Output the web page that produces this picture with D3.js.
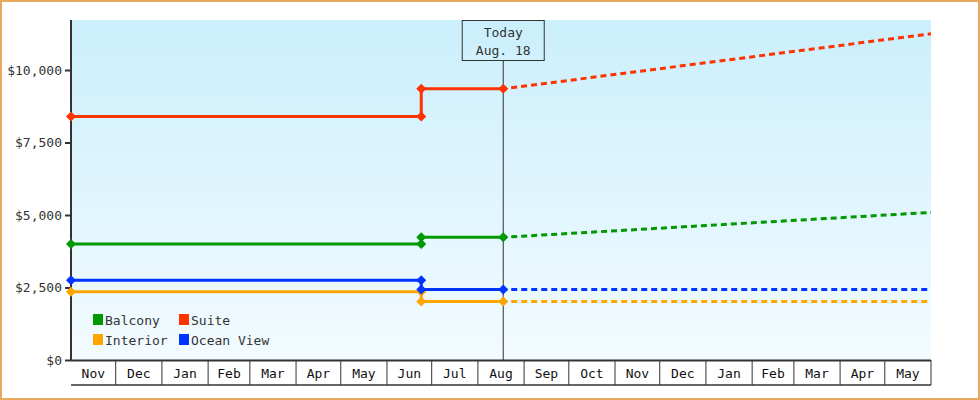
<!DOCTYPE html>
<html><head><meta charset="utf-8">
<script src="https://cdn.jsdelivr.net/npm/d3@7"></script>
<style>
body{margin:0;background:#fff}
svg{display:block;font-family:"DejaVu Sans Mono",monospace}
</style></head>
<body><svg id="chart" width="980" height="400"></svg>
<script>
// data
const seriesNames = ["Balcony", "Suite", "Interior", "Ocean View"];
const seriesColors = ["#009900", "#ff3300", "#ffa500", "#0033ff"];
const pastDates = ["2017-11-01", "2018-06-24", "2018-06-24", "2018-08-18"];
const balconyPast = [4000, 4000, 4230, 4230];
const suitePast = [8400, 8400, 9350, 9350];
const interiorPast = [2350, 2350, 2020, 2020];
const oceanPast = [2750, 2750, 2430, 2430];
const futureDates = ["2018-08-18", "2019-06-01"];
const balconyFuture = [4230, 5090];
const suiteFuture = [9350, 11250];
const interiorFuture = [2020, 2020];
const oceanFuture = [2430, 2430];
const yTicks = [0, 2500, 5000, 7500, 10000];
const todayDate = "2018-08-18";
const todayLabel = ["Today", "Aug. 18"];

const pastValues = [balconyPast, suitePast, interiorPast, oceanPast];
const futureValues = [balconyFuture, suiteFuture, interiorFuture, oceanFuture];
const parse = d3.timeParse("%Y-%m-%d");

const svg = d3.select("#chart");
const plotLeft = 71, plotRight = 931, plotTop = 20, plotBottom = 360;

svg.append("rect").attr("x", 1).attr("y", 1).attr("width", 978).attr("height", 398)
  .attr("fill", "#fff").attr("stroke", "#e8a860").attr("stroke-width", 2);

const grad = svg.append("defs").append("linearGradient").attr("id", "bg")
  .attr("x1", 0).attr("y1", 0).attr("x2", 0).attr("y2", 1);
grad.append("stop").attr("offset", 0).attr("stop-color", "#cbeffc");
grad.append("stop").attr("offset", 1).attr("stop-color", "#f3fbff");
svg.append("rect").attr("x", plotLeft).attr("y", plotTop).attr("width", plotRight - plotLeft)
  .attr("height", plotBottom - plotTop).attr("fill", "url(#bg)");

const x = d3.scaleTime().domain([parse("2017-11-01"), parse("2019-06-01")]).range([plotLeft, plotRight]);
const y = d3.scaleLinear().domain([0, 11724]).range([plotBottom, plotTop]);

// y axis
const yAxis = svg.append("g").attr("transform", `translate(${plotLeft},0)`)
  .call(d3.axisLeft(y).tickValues(yTicks).tickSize(6).tickPadding(3)
    .tickFormat(d => "$" + d3.format(",")(d)));
yAxis.select(".domain").remove();
yAxis.selectAll("text").attr("font-size", 13).attr("fill", "#333").attr("font-family", "DejaVu Sans Mono");
yAxis.selectAll("line").attr("stroke", "#333").attr("stroke-width", 2);
svg.append("line").attr("x1", plotLeft).attr("x2", plotLeft).attr("y1", plotTop).attr("y2", plotBottom + 1)
  .attr("stroke", "#333").attr("stroke-width", 2);

// month cells on the x axis
const months = d3.timeMonth.range(x.domain()[0], x.domain()[1]);
const cells = svg.append("g");
cells.append("line").attr("x1", plotLeft).attr("x2", plotRight).attr("y1", plotBottom + 0.5).attr("y2", plotBottom + 0.5)
  .attr("stroke", "#333").attr("stroke-width", 2);
cells.append("line").attr("x1", plotLeft).attr("x2", plotRight).attr("y1", 385).attr("y2", 385)
  .attr("stroke", "#333").attr("stroke-width", 1.5);
months.forEach(m => {
  const x0 = x(m), x1 = x(d3.timeMonth.offset(m, 1));
  cells.append("line").attr("x1", x1).attr("x2", x1).attr("y1", plotBottom).attr("y2", 385)
    .attr("stroke", "#333");
  cells.append("text").attr("x", (x0 + x1) / 2).attr("y", 378).attr("text-anchor", "middle")
    .attr("font-size", 13).attr("fill", "#111").text(d3.timeFormat("%b")(m));
});

// today marker
const tx = x(parse(todayDate));
svg.append("line").attr("x1", tx).attr("x2", tx).attr("y1", 60).attr("y2", plotBottom)
  .attr("stroke", "#333").attr("stroke-width", 1);
svg.append("rect").attr("x", tx - 41).attr("y", 20.5).attr("width", 82).attr("height", 40)
  .attr("fill", "none").attr("stroke", "#333");
todayLabel.forEach((t, i) => svg.append("text").attr("x", tx).attr("y", 37 + i * 18)
  .attr("text-anchor", "middle").attr("font-size", 13).attr("fill", "#333").text(t));

const line = d3.line().x(d => x(d[0])).y(d => y(d[1]));

seriesNames.forEach((name, i) => {
  const past = pastDates.map((d, j) => [parse(d), pastValues[i][j]]);
  const future = futureDates.map((d, j) => [parse(d), futureValues[i][j]]);
  svg.append("path").datum(future).attr("d", line).attr("fill", "none")
    .attr("stroke", seriesColors[i]).attr("stroke-width", 3).attr("stroke-dasharray", "6,4")
    .attr("stroke-dashoffset", -8);
  svg.append("path").datum(past).attr("d", line).attr("fill", "none")
    .attr("stroke", seriesColors[i]).attr("stroke-width", 3);
  svg.selectAll(null).data(past).enter().append("path")
    .attr("d", d3.symbol().type(d3.symbolSquare).size(50))
    .attr("transform", d => `translate(${x(d[0])},${y(d[1])}) rotate(45)`)
    .attr("fill", seriesColors[i]);
});

// legend
const legend = svg.append("g").attr("transform", "translate(93,314)");
seriesNames.forEach((name, i) => {
  const g = legend.append("g").attr("transform", `translate(${(i % 2) * 86},${Math.floor(i / 2) * 20})`);
  g.append("rect").attr("width", 10).attr("height", 11).attr("fill", seriesColors[i]);
  g.append("text").attr("x", 12).attr("y", 10.5).attr("font-size", 13).attr("fill", "#333").text(name);
});
</script></body></html>
